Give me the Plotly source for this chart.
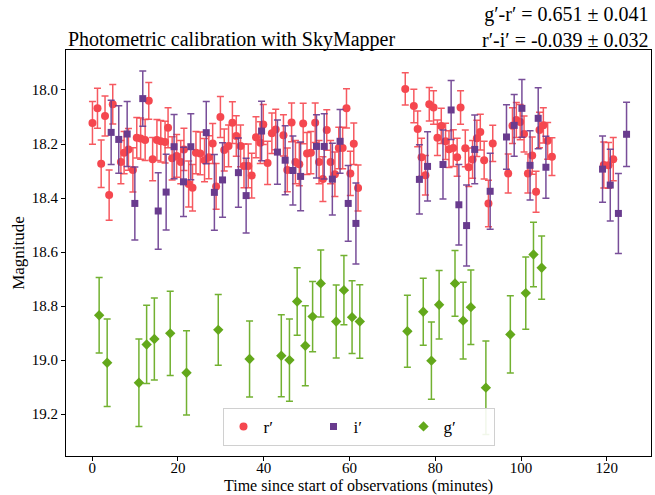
import plotly.graph_objects as go

# r' band photometry: time (min), magnitude, 1-sigma error
r_time = [0.07, 1.24, 2.1, 3.0, 3.96, 4.8, 6.7, 7.45, 8.46, 9.5, 10.4, 11.3, 12.35, 13.2,
          14.1, 15.1, 16.0, 17.0, 17.7, 18.65, 19.7, 20.65, 21.4, 22.5, 23.4, 24.2, 25.2,
          26.2, 27.2, 28.1, 28.9, 29.9, 30.8, 31.8, 32.7, 33.6, 34.6, 35.4, 36.4, 37.2,
          38.2, 39.2, 39.9, 40.9, 41.9, 42.8, 44.6, 45.5, 46.5, 47.4, 48.3, 49.2, 50.1,
          51.0, 52.0, 52.9, 53.8, 54.7, 55.6, 56.6, 57.5, 58.4, 59.3, 60.2, 61.0, 62.0,
          73.0, 75.0, 75.9, 76.8, 77.7, 78.6, 79.6, 80.5, 81.4, 82.4, 83.2, 84.2, 85.1,
          85.9, 87.0, 87.8, 88.7, 89.7, 90.5, 91.4, 92.4, 93.4, 97.0, 98.0, 98.9, 99.8,
          100.7, 101.6, 102.6, 103.5, 104.3, 105.2, 106.2, 107.2, 119.3, 120.4, 121.5]
r_mag = [18.122, 18.068, 18.273, 18.096, 18.389, 18.053, 18.267, 18.232, 18.220, 18.296,
         18.177, 18.180, 18.185, 18.040, 18.256, 18.185, 18.190, 18.193, 18.140, 18.253,
         18.244, 18.267, 18.220, 18.348, 18.362, 18.232, 18.235, 18.260, 18.249, 18.198,
         18.357, 18.100, 18.222, 18.207, 18.121, 18.170, 18.207, 18.281, 18.281, 18.317,
         18.175, 18.195, 18.128, 18.270, 18.160, 18.146, 18.168, 18.296, 18.120, 18.267,
         18.275, 18.124, 18.235, 18.232, 18.121, 18.267, 18.330, 18.148, 18.267, 18.312,
         18.215, 18.215, 18.068, 18.309, 18.199, 18.363,
         17.996, 18.059, 18.144, 18.249, 18.316, 18.053, 18.065, 18.177, 18.133, 18.190,
         18.219, 18.215, 18.249, 18.065, 18.216, 18.286, 18.257, 18.179, 18.156, 18.260,
         18.420, 18.198, 18.309, 18.132, 18.111, 18.119, 18.163, 18.309, 18.243, 18.377,
         18.148, 18.131, 18.188, 18.247, 18.278, 18.279, 18.256]
r_err = [0.079, 0.074, 0.088, 0.074, 0.093, 0.073, 0.080, 0.078, 0.077, 0.082,
         0.075, 0.076, 0.076, 0.068, 0.080, 0.076, 0.077, 0.077, 0.074, 0.080,
         0.079, 0.080, 0.078, 0.085, 0.086, 0.078, 0.079, 0.080, 0.080, 0.074,
         0.085, 0.076, 0.078, 0.077, 0.077, 0.075, 0.077, 0.081, 0.081, 0.083,
         0.076, 0.077, 0.074, 0.080, 0.075, 0.075, 0.076, 0.081, 0.072, 0.080,
         0.080, 0.075, 0.078, 0.078, 0.073, 0.080, 0.083, 0.075, 0.080, 0.082,
         0.077, 0.077, 0.073, 0.082, 0.077, 0.085,
         0.060, 0.062, 0.066, 0.070, 0.073, 0.062, 0.062, 0.066, 0.065, 0.067,
         0.068, 0.068, 0.070, 0.062, 0.068, 0.071, 0.070, 0.067, 0.066, 0.070,
         0.086, 0.067, 0.072, 0.066, 0.065, 0.065, 0.067, 0.072, 0.069, 0.076,
         0.066, 0.065, 0.068, 0.070, 0.085, 0.085, 0.080]

# i' band photometry
i_time = [4.43, 6.2, 8.16, 9.95, 11.8, 15.4, 17.25, 19.1, 21.3, 23.0, 26.6, 28.5, 30.4,
          34.1, 35.9, 39.5, 43.2, 45.0, 46.8, 48.6, 52.3, 54.1, 56.0, 57.8, 59.7, 61.5,
          76.3, 78.2, 81.8, 83.7, 85.5, 87.3, 89.2, 92.8, 96.6, 98.4, 100.2, 102.1,
          104.0, 105.8, 119.0, 120.8, 122.7, 124.6]
i_mag = [18.157, 18.183, 18.163, 18.420, 18.032, 18.448, 18.378, 18.210, 18.340, 18.210,
         18.158, 18.379, 18.333, 18.306, 18.391, 18.152, 18.230, 18.260, 18.298, 18.320,
         18.209, 18.209, 18.330, 18.190, 18.420, 18.494,
         18.331, 18.283, 18.276, 18.074, 18.425, 18.502, 18.220, 18.375, 18.174, 18.131,
         18.068, 18.279, 18.105, 18.286, 18.293, 18.352, 18.457, 18.164]
i_err = [0.119, 0.125, 0.120, 0.135, 0.102, 0.142, 0.140, 0.119, 0.128, 0.122,
         0.115, 0.140, 0.138, 0.128, 0.138, 0.110, 0.119, 0.128, 0.128, 0.127,
         0.117, 0.121, 0.133, 0.118, 0.140, 0.150,
         0.128, 0.128, 0.128, 0.109, 0.149, 0.150, 0.127, 0.141, 0.119, 0.114,
         0.107, 0.128, 0.113, 0.115, 0.123, 0.133, 0.148, 0.119]

# g' band photometry
g_time = [1.63, 3.5, 10.9, 12.7, 14.5, 18.2, 22.0, 29.4, 36.7, 44.1, 46.0, 47.8, 49.7,
          51.4, 53.3, 56.9, 58.7, 60.6, 62.4, 73.5, 77.2, 79.1, 80.9, 84.6, 86.5, 88.3,
          91.8, 97.5, 101.1, 102.9, 104.8]
g_mag = [18.834, 19.010, 19.084, 18.942, 18.922, 18.901, 19.047, 18.888, 18.996, 18.984,
         19.000, 18.783, 18.947, 18.839, 18.716, 18.857, 18.741, 18.841, 18.857, 18.893,
         18.821, 19.002, 18.795, 18.716, 18.854, 18.804, 19.102, 18.905, 18.752, 18.609,
         18.658]
g_err = [0.140, 0.162, 0.162, 0.145, 0.152, 0.156, 0.156, 0.131, 0.141, 0.152,
         0.152, 0.125, 0.148, 0.130, 0.124, 0.135, 0.128, 0.135, 0.136, 0.133,
         0.124, 0.143, 0.127, 0.122, 0.142, 0.138, 0.173, 0.143, 0.134, 0.119,
         0.117]

colour_summary = ["g′-r′ = 0.651 ± 0.041", "r′-i′ = -0.039 ± 0.032"]

FONT = "Liberation Serif"

bands = [
    ("r′", r_time, r_mag, r_err, "#f5474f", "rgba(245,71,79,0.9)", "circle", 8),
    ("i′", i_time, i_mag, i_err, "#693b8e", "rgba(105,59,142,0.9)", "square", 7),
    ("g′", g_time, g_mag, g_err, "#63a81b", "rgba(99,168,27,0.9)", "diamond", 8),
]

fig = go.Figure()
for name, t, m, e, col, ecol, sym, size in bands:
    fig.add_trace(go.Scatter(
        x=t, y=m, mode="markers", name=name,
        marker=dict(color=col, symbol=sym, size=size, line=dict(width=0)),
        error_y=dict(type="data", array=e, visible=True, color=ecol,
                     thickness=1.5, width=3.5),
    ))

fig.add_annotation(
    text="Photometric calibration with SkyMapper", xref="paper", yref="paper",
    x=0, y=1, xanchor="left", yanchor="bottom", showarrow=False,
    font=dict(family=FONT, size=20, color="black"), yshift=-3,
)
fig.add_annotation(
    text="<br>".join(colour_summary), xref="paper", yref="paper",
    x=1, y=1, xanchor="right", yanchor="bottom", align="right", showarrow=False,
    font=dict(family=FONT, size=20, color="black"), yshift=-3,
)
# x-axis label placed as an annotation under the tick labels
fig.add_annotation(
    text="Time since start of observations (minutes)", xref="paper", yref="paper",
    x=0.5, y=0, xanchor="center", yanchor="top", showarrow=False,
    font=dict(family=FONT, size=16, color="black"), yshift=-19,
)

axis_common = dict(
    showline=True, linecolor="black", linewidth=1, mirror=True,
    ticks="outside", ticklen=4, tickcolor="black", showgrid=False, zeroline=False,
    tickfont=dict(family=FONT, size=15, color="black"),
)

fig.update_xaxes(
    range=[-6.1, 130.3], tickvals=[0, 20, 40, 60, 80, 100, 120],
    ticklabelstandoff=-6,
    **axis_common,
)
fig.update_yaxes(
    range=[19.355, 17.852], tickvals=[18.0, 18.2, 18.4, 18.6, 18.8, 19.0, 19.2],
    tickformat=".1f",
    title=dict(text="Magnitude", font=dict(family=FONT, size=17, color="black"),
               standoff=2),
    **axis_common,
)

fig.update_layout(
    width=655, height=495,
    margin=dict(l=66, r=4, t=50, b=39, autoexpand=False),
    paper_bgcolor="white", plot_bgcolor="white",
    showlegend=True,
    legend=dict(
        orientation="h", x=0.5, xanchor="center", y=0.025, yanchor="bottom",
        bgcolor="rgba(255,255,255,0.9)", bordercolor="#d0d0d0", borderwidth=1,
        font=dict(family=FONT, size=17, color="black"),
        entrywidth=45, itemwidth=30,
    ),
)

fig.write_html("out.html")
